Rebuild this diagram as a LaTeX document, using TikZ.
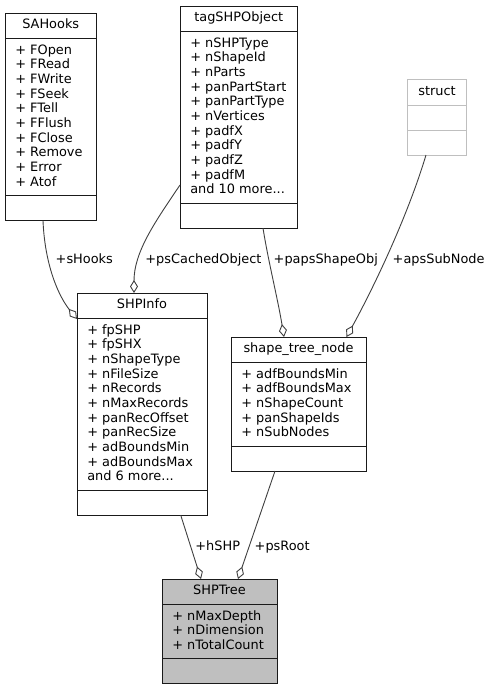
\documentclass[tikz,border=0pt]{standalone}
\usepackage{fontspec}
\setmainfont{DejaVu Sans}
\usetikzlibrary{arrows.meta,calc}
\definecolor{edgecol}{HTML}{404040}
\definecolor{boxcol}{HTML}{1A1A1A}
\definecolor{fillgray}{HTML}{BFBFBF}
\definecolor{lightborder}{HTML}{BFBFBF}
\newcommand\moredots{...}
\tikzset{
  box/.style={line width=1pt, inner sep=0pt, outer sep=0pt},
  txt/.style={inner sep=0pt, outer sep=0pt, font=\fontsize{12.9}{14.67}\selectfont},
  lbl/.style={txt, anchor=base west},
  edge/.style={draw=edgecol, line width=0.9pt,
    -{Diamond[open, length=13pt, width=8pt, line width=0.9pt]}},
}
% #1 name, #2 x, #3 y, #4 width, #5 nlines, #6 title, #7 lines, #8 border colour, #9 fill
\newcommand\classbox[9]{%
  \pgfmathsetmacro\attrh{14.67*#5+10.7}%
  \pgfmathsetmacro\toth{50+\attrh}%
  \node[box, draw=#8, fill=#9, anchor=north west, minimum width=#4pt, minimum height=\toth pt] (#1) at (#2,#3) {};
  \draw[draw=#8, line width=1pt] ($(#1.north west)+(0,25)$) -- ++(#4,0);
  \draw[draw=#8, line width=1pt] ($(#1.north west)+(0,25+\attrh)$) -- ++(#4,0);
  \node[txt, anchor=base] (#1-t) at ($(#1.north)+(0,15.5)$) {#6};
  \foreach \t [count=\i from 0] in {#7} {
    \node[txt, anchor=base west] (#1-a\i) at ($(#1.north west)+(10.3,41+14.67*\i)$) {\t};
  }%
}
\begin{document}
\begin{tikzpicture}[x=1pt, y=-1pt]
\useasboundingbox (0,0) rectangle (492,691);
\fill[white] (0,0) rectangle (492,691);

\classbox{sahooks}{5}{13.3}{91.5}{10}{SAHooks}{+ FOpen,+ FRead,+ FWrite,+ FSeek,+ FTell,+ FFlush,+ FClose,+ Remove,+ Error,+ Atof}{boxcol}{none}
\classbox{tagshp}{180}{6}{117.5}{11}{tagSHPObject}{+ nSHPType,+ nShapeId,+ nParts,+ panPartStart,+ panPartType,+ nVertices,+ padfX,+ padfY,+ padfZ,+ padfM,and 10 more\moredots}{boxcol}{none}
\classbox{shpinfo}{77}{293}{130}{11}{SHPInfo}{+ fpSHP,+ fpSHX,+ nShapeType,+ nFileSize,+ nRecords,+ nMaxRecords,+ panRecOffset,+ panRecSize,+ adBoundsMin,+ adBoundsMax,and 6 more\moredots}{boxcol}{none}
\classbox{stn}{231}{337}{135}{5}{shape\_tree\_node}{+ adfBoundsMin,+ adfBoundsMax,+ nShapeCount,+ panShapeIds,+ nSubNodes}{boxcol}{none}
\classbox{shptree}{162}{579}{115}{3}{SHPTree}{+ nMaxDepth,+ nDimension,+ nTotalCount}{boxcol}{fillgray}

% struct (undocumented)
\node[box, draw=lightborder, anchor=north west, minimum width=59pt, minimum height=76pt] (struct) at (407.5,79) {};
\draw[draw=lightborder, line width=1pt] ($(struct.north west)+(0,26)$) -- ++(59,0);
\draw[draw=lightborder, line width=1pt] ($(struct.north west)+(0,51)$) -- ++(59,0);
\node[txt, anchor=base] (struct-t) at ($(struct.north)+(0,16)$) {struct};

% connector end points
\coordinate (e1s) at ($(sahooks.south west)+(38,0)$);
\coordinate (e1t) at ($(shpinfo.north west)+(0,26)$);
\coordinate (e2s) at ($(tagshp.north west)+(0,179)$);
\coordinate (e2t) at ($(shpinfo.north west)+(57,0)$);
\coordinate (e3s) at ($(tagshp.south west)+(83,0)$);
\coordinate (e3t) at ($(stn.north west)+(53,0)$);
\coordinate (e4s) at ($(struct.south west)+(18.5,0)$);
\coordinate (e4t) at ($(stn.north west)+(115.5,0)$);
\coordinate (e5s) at ($(shpinfo.south west)+(103.7,0)$);
\coordinate (e5t) at ($(shptree.north west)+(39,0)$);
\coordinate (e6s) at ($(stn.south west)+(44,0)$);
\coordinate (e6t) at ($(shptree.north west)+(76,0)$);

\draw[edge] (e1s) .. controls (45,268) and (60,298) .. (e1t);
\draw[edge] (e2s) .. controls (155,222) and (134,252) .. (e2t);
\draw[edge] (e3s) .. controls (268,260) and (278,300) .. (e3t);
\draw[edge] (e4s) .. controls (408,215) and (375,285) .. (e4t);
\draw[edge] (e5s) -- (e5t);
\draw[edge] (e6s) -- (e6t);

\node[lbl] (l1) at (55.7,263) {+sHooks};
\node[lbl] (l2) at (145.4,263) {+psCachedObject};
\node[lbl] (l3) at (273.7,263) {+papsShapeObj};
\node[lbl] (l4) at (392.7,263) {+apsSubNode};
\node[lbl] (l5) at (195.4,550.5) {+hSHP};
\node[lbl] (l6) at (254.7,550.5) {+psRoot};
\end{tikzpicture}
\end{document}
